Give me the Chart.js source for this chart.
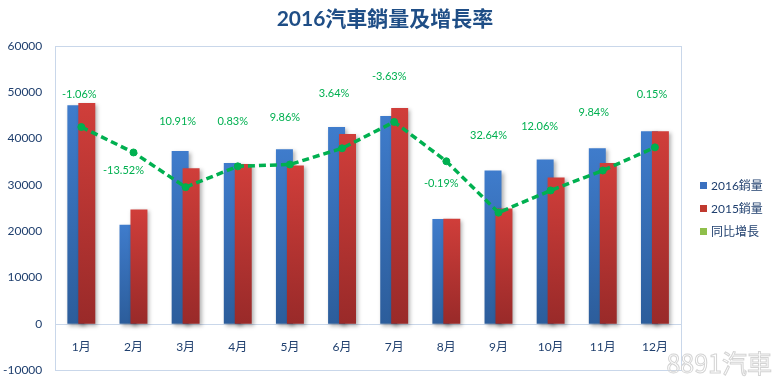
<!DOCTYPE html>
<html>
<head>
<meta charset="utf-8">
<script src="https://cdn.jsdelivr.net/npm/chart.js@4.4.1/dist/chart.umd.min.js"></script>
<style>
  html, body { margin: 0; padding: 0; background: #fff; }
  #wrap { width: 773px; height: 377px; }
</style>
</head>
<body>
<div id="wrap"><canvas id="myChart" width="773" height="377"></canvas></div>
<script>
const labels = ['1月', '2月', '3月', '4月', '5月', '6月', '7月', '8月', '9月', '10月', '11月', '12月'];

const ventas2016 = [47200, 21400, 37300, 34700, 37700, 42500, 44900, 22600, 33100, 35500, 37900, 41600];
const ventas2015 = [47700, 24700, 33600, 34500, 34200, 41000, 46600, 22700, 24900, 31600, 34700, 41600];

// posicao da linha de crescimento (eixo oculto)
const nivelLinha = [42500, 37000, 29500, 34000, 34400, 37900, 43600, 35100, 24000, 28800, 33100, 38100];
const crescimento = ['-1.06%', '-13.52%', '10.91%', '0.83%', '9.86%', '3.64%', '-3.63%', '-0.19%', '32.64%', '12.06%', '9.84%', '0.15%'];

const yTicks = [-10000, 0, 10000, 20000, 30000, 40000, 50000, 60000];

const titulo = '2016汽車銷量及增長率';

// deslocamento dos rotulos em relacao ao ponto (px)
const offsetRotulo = [
    [-2, -33], [-10, 18], [-8, -66], [-5, -45], [-5, -47], [-8, -55],
    [-5, -45], [-5, 22], [-10, -77], [-11, -64], [-9, -58], [-3, -53]
];

const FONTE = "Lato, 'Noto Sans CJK TC', sans-serif";
const AZUL_TXT = '#1f3f6e';
const CORES_LEGENDA = ['#3a70bf', '#c0392f', '#8fbf4a'];

function gradiente(topo, base) {
    return function (ctx) {
        const chart = ctx.chart;
        if (!chart.chartArea || ctx.type !== 'data') return base;
        const y = chart.scales.y;
        const y0 = y.getPixelForValue(0);
        const y1 = y.getPixelForValue(ctx.raw);
        if (y0 === y1) return base;
        const g = chart.ctx.createLinearGradient(0, y1, 0, y0);
        g.addColorStop(0, topo);
        g.addColorStop(1, base);
        return g;
    };
}

function comSombra(c, fn) {
    c.save();
    c.shadowColor = 'rgba(0,0,0,0.3)';
    c.shadowBlur = 4;
    c.shadowOffsetX = 2;
    c.shadowOffsetY = 2;
    fn();
    c.restore();
}

// azul fica a esquerda mas o vermelho e desenhado por cima
const barras = {
    id: 'barras',
    beforeDatasetDraw(chart, args) {
        if (args.index === 1) return false;
        if (args.index === 0) {
            comSombra(chart.ctx, () => args.meta.controller.draw());
            comSombra(chart.ctx, () => chart.getDatasetMeta(1).controller.draw());
            return false;
        }
    }
};

const moldura = {
    id: 'moldura',
    beforeDatasetsDraw(chart) {
        const { ctx, chartArea: a } = chart;
        ctx.save();
        ctx.strokeStyle = '#c9d7ea';
        ctx.lineWidth = 1;
        ctx.strokeRect(Math.round(a.left) + 0.5, Math.round(a.top) + 0.5,
            Math.round(a.right - a.left), Math.round(a.bottom - a.top));
        const y0 = Math.round(chart.scales.y.getPixelForValue(0)) + 0.5;
        ctx.beginPath();
        ctx.moveTo(a.left, y0);
        ctx.lineTo(a.right, y0);
        ctx.stroke();
        ctx.restore();
    }
};

const rotulos = {
    id: 'rotulos',
    afterDatasetsDraw(chart) {
        const meta = chart.getDatasetMeta(2);
        const c = chart.ctx;
        c.save();
        c.font = '11px ' + FONTE;
        c.fillStyle = '#00b050';
        c.textAlign = 'center';
        c.textBaseline = 'middle';
        meta.data.forEach((pt, i) => {
            const [dx, dy] = offsetRotulo[i];
            c.fillText(crescimento[i], pt.x + dx, pt.y + dy);
        });
        c.restore();
    },
    afterDraw(chart) {
        const c = chart.ctx;
        c.save();
        // titulo centrado no canvas todo
        c.font = 'bold 21px ' + FONTE;
        c.fillStyle = '#1f4e86';
        c.textAlign = 'center';
        c.textBaseline = 'middle';
        c.fillText(titulo, 385, 19);
        // legenda
        c.font = '12px ' + FONTE;
        c.textAlign = 'left';
        chart.data.datasets.forEach((ds, i) => {
            const y = 186 + i * 23;
            c.fillStyle = CORES_LEGENDA[i];
            c.fillRect(700, y - 4, 7, 7);
            c.fillStyle = AZUL_TXT;
            c.fillText(ds.label, 711, y);
        });
        // marca d'agua
        c.font = "25px 'Noto Sans CJK TC', sans-serif";
        c.textAlign = 'right';
        c.textBaseline = 'alphabetic';
        c.strokeStyle = '#d4d4d4';
        c.lineWidth = 1;
        c.strokeText('8891汽車', 772, 373);
        c.restore();
    }
};

const data = {
    labels: labels,
    datasets: [{
        label: '2016銷量',
        data: ventas2016,
        backgroundColor: gradiente('#3f7ccc', '#2c5d9b'),
        categoryPercentage: 0.42,
        barPercentage: 1.55
    }, {
        label: '2015銷量',
        data: ventas2015,
        backgroundColor: gradiente('#d03e3a', '#992a29'),
        categoryPercentage: 0.42,
        barPercentage: 1.55
    }, {
        type: 'line',
        label: '同比增長',
        data: nivelLinha,
        yAxisID: 'y2',
        borderColor: '#00b050',
        backgroundColor: '#00b050',
        pointBackgroundColor: '#00b050',
        pointBorderColor: '#00b050',
        pointRadius: 3.5,
        pointBorderWidth: 1,
        borderWidth: 3.5,
        borderDash: [7, 4],
        order: -1
    }]
};

const config = {
    type: 'bar',
    data: data,
    options: {
        responsive: false,
        animation: false,
        layout: { padding: { left: -10, right: 92, top: 46, bottom: 0 } },
        scales: {
            x: {
                position: { y: 0 },
                afterFit: scale => { scale.height = 0; },
                grid: { display: false, drawTicks: false },
                border: { display: false },
                ticks: { color: AZUL_TXT, font: { family: FONTE, size: 12 }, padding: 16 }
            },
            y: {
                min: -10000,
                max: 60000,
                afterBuildTicks: axis => { axis.ticks = yTicks.map(v => ({ value: v })); },
                // o padding dos ticks tambem entra em cima/baixo; so queremos o horizontal
                afterFit: scale => { scale.paddingTop = 7; scale.paddingBottom = 7; },
                grid: { display: false, drawTicks: false },
                border: { display: false },
                ticks: {
                    color: AZUL_TXT,
                    font: { family: FONTE, size: 12 },
                    padding: 13,
                    callback: value => String(value)
                }
            },
            y2: {
                display: false,
                min: -10000,
                max: 60000
            }
        },
        plugins: {
            title: { display: false },
            legend: { display: false },
            tooltip: { enabled: false }
        }
    },
    plugins: [moldura, barras, rotulos]
};

const myChart = new Chart(
    document.getElementById('myChart'),
    config
);
</script>
</body>
</html>
